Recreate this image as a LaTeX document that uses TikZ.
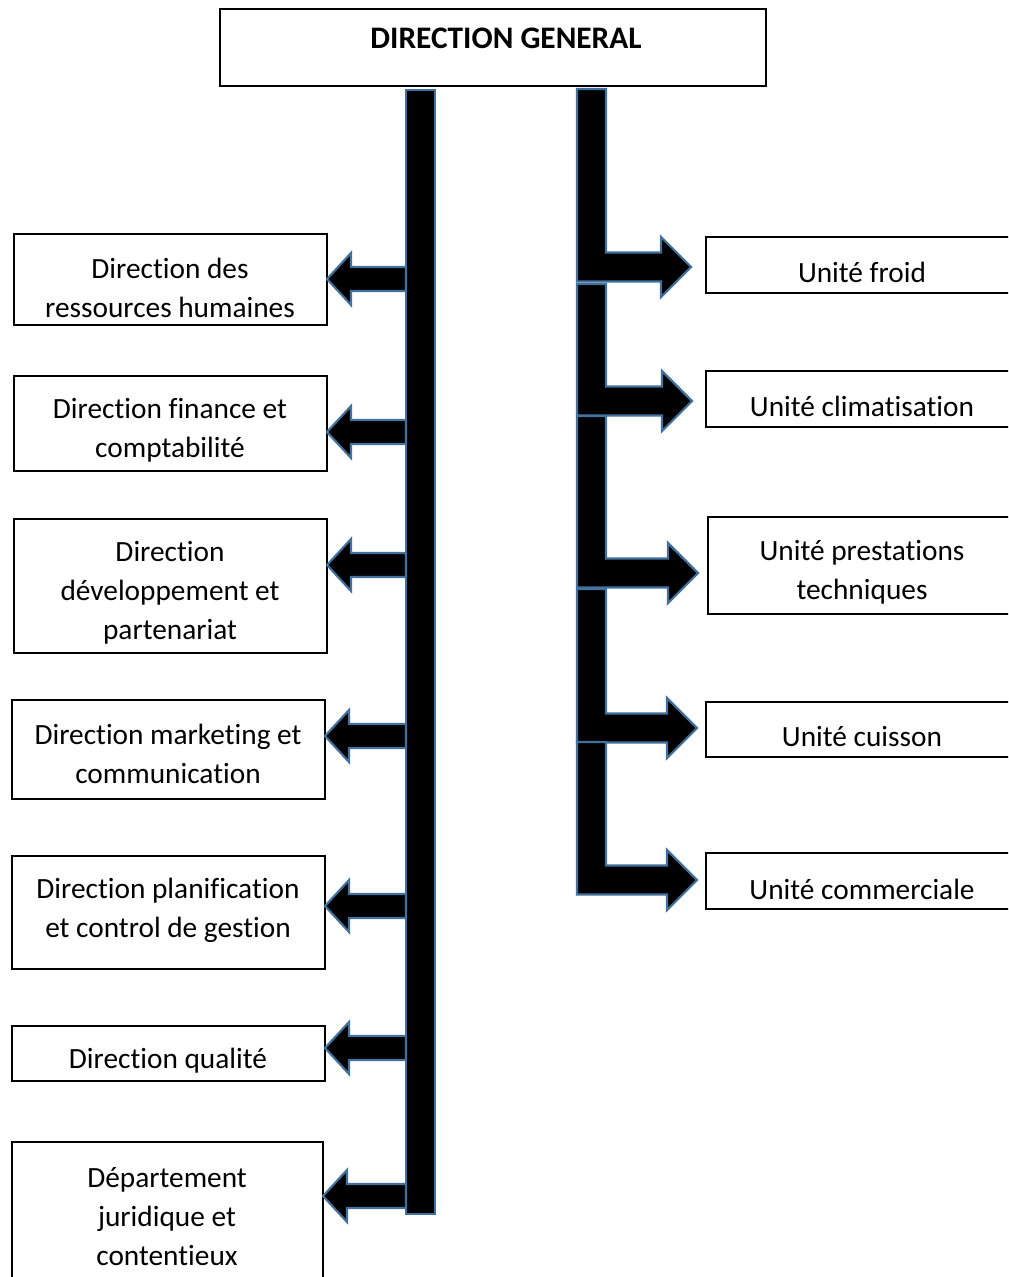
\documentclass[tikz,border=0pt]{standalone}
\usepackage{fontspec}
\setmainfont{Carlito}[Ligatures=NoCommon]
\usetikzlibrary{calc}
\definecolor{edgeblue}{RGB}{65,113,156}
\tikzset{
  unitbox/.style={draw=black, line width=1.5pt, fill=white, inner sep=0pt, outer sep=0pt},
  lbl/.style={font=\fontsize{22}{29.25}\selectfont, align=center, inner sep=0pt},
  blockbar/.style={fill=black, draw=edgeblue, line width=1.6pt, line join=miter},
}
% box from corner (x1,y1) to (x2,y2), in pixel units
\newcommand\orgbox[5]{%
  \node[unitbox, minimum width={(#4-#2)*0.75pt}, minimum height={(#5-#3)*0.75pt}]
    (#1) at ({(#2+#4)/2},{(#3+#5)/2}) {};}
% block arrow from the spine to the left, ending on a box: box name, y
\newcommand\branchleft[2]{%
  \path (spine.west |- 0,#2) coordinate (s) (#1.east |- 0,#2) coordinate (t);
  \draw[blockbar] ($(s)+(0,-12)$) -- ($(t)+(24,-12)$) -- ($(t)+(24,-26)$) -- (t)
    -- ($(t)+(24,26)$) -- ($(t)+(24,12)$) -- ($(s)+(0,12)$) -- cycle;}
% bent block arrow to the right: box name, top y, shaft y, gap to the box
\newcommand\branchright[4]{%
  \path (#1.west |- 0,#3) coordinate (t);
  \path ($(t)+(-#4,0)$) coordinate (t);
  \draw[blockbar] (577,#2) -- (606,#2) -- (606,{#3-14.5}) -- ($(t)+(-30,-14.5)$)
    -- ($(t)+(-30,-30)$) -- (t) -- ($(t)+(-30,30)$) -- ($(t)+(-30,14.5)$)
    -- (577,{#3+14.5}) -- cycle;}
\begin{document}
\begin{tikzpicture}[x=0.75pt, y=-0.75pt]
  \clip (0,0) rectangle (1008,1277);
  \fill[white] (0,0) rectangle (1008,1277);

  % head of the organisation
  \node[unitbox, line width=2pt, minimum width={546*0.75pt}, minimum height={77*0.75pt}]
    (dg) at (493,47.5) {};
  \node[lbl, font=\fontsize{23.5}{29.25}\selectfont\bfseries] (dgt) at (506,38) {DIRECTION GENERAL};

  % left column: directions
  \orgbox{d1}{14}{234}{327}{325}
  \orgbox{d2}{14}{376}{327}{471}
  \orgbox{d3}{14}{519}{327}{653}
  \orgbox{d4}{12}{700}{325}{799}
  \orgbox{d5}{12}{856}{325}{969}
  \orgbox{d6}{12}{1026}{325}{1081}
  \orgbox{d7}{12}{1142}{323}{1300}
  \node[lbl] (d1t) at (170,288) {Direction des\\ressources humaines};
  \node[lbl] (d2t) at (170,430) {Direction finance et\\comptabilité};
  \node[lbl] (d3t) at (170,593) {Direction\\développement et\\partenariat};
  \node[lbl] (d4t) at (168,754) {Direction marketing et\\communication};
  \node[lbl] (d5t) at (168,910) {Direction planification\\et control de gestion};
  \node[lbl] (d6t) at (168,1061) {Direction qualité};
  \node[lbl] (d7t) at (167,1217) {Département\\juridique et\\contentieux};

  % right column: units
  \orgbox{u1}{706}{237}{1018}{293}
  \orgbox{u2}{706}{371}{1018}{427}
  \orgbox{u3}{708}{517}{1018}{614}
  \orgbox{u4}{706}{702}{1018}{757}
  \orgbox{u5}{706}{853}{1018}{909}
  \node[lbl] (u1t) at (862,272) {Unité froid};
  \node[lbl] (u2t) at (862,406) {Unité climatisation};
  \node[lbl] (u3t) at (862,572) {Unité prestations\\techniques};
  \node[lbl] (u4t) at (862,737) {Unité cuisson};
  \node[lbl] (u5t) at (862,889) {Unité commerciale};

  % vertical spine feeding the directions
  \node[blockbar, inner sep=0pt, outer sep=0pt, minimum width={29*0.75pt},
    minimum height={1124*0.75pt}] (spine) at (420.5,652) {};
  \branchleft{d1}{279}
  \branchleft{d2}{432}
  \branchleft{d3}{565}
  \branchleft{d4}{736}
  \branchleft{d5}{906}
  \branchleft{d6}{1048}
  \branchleft{d7}{1196}

  % chained bent arrows feeding the units
  \branchright{u1}{89}{267}{15}
  \branchright{u2}{284}{401}{14}
  \branchright{u3}{416}{573}{10}
  \branchright{u4}{589}{728}{9}
  \branchright{u5}{742}{880}{9}
\end{tikzpicture}
\end{document}
